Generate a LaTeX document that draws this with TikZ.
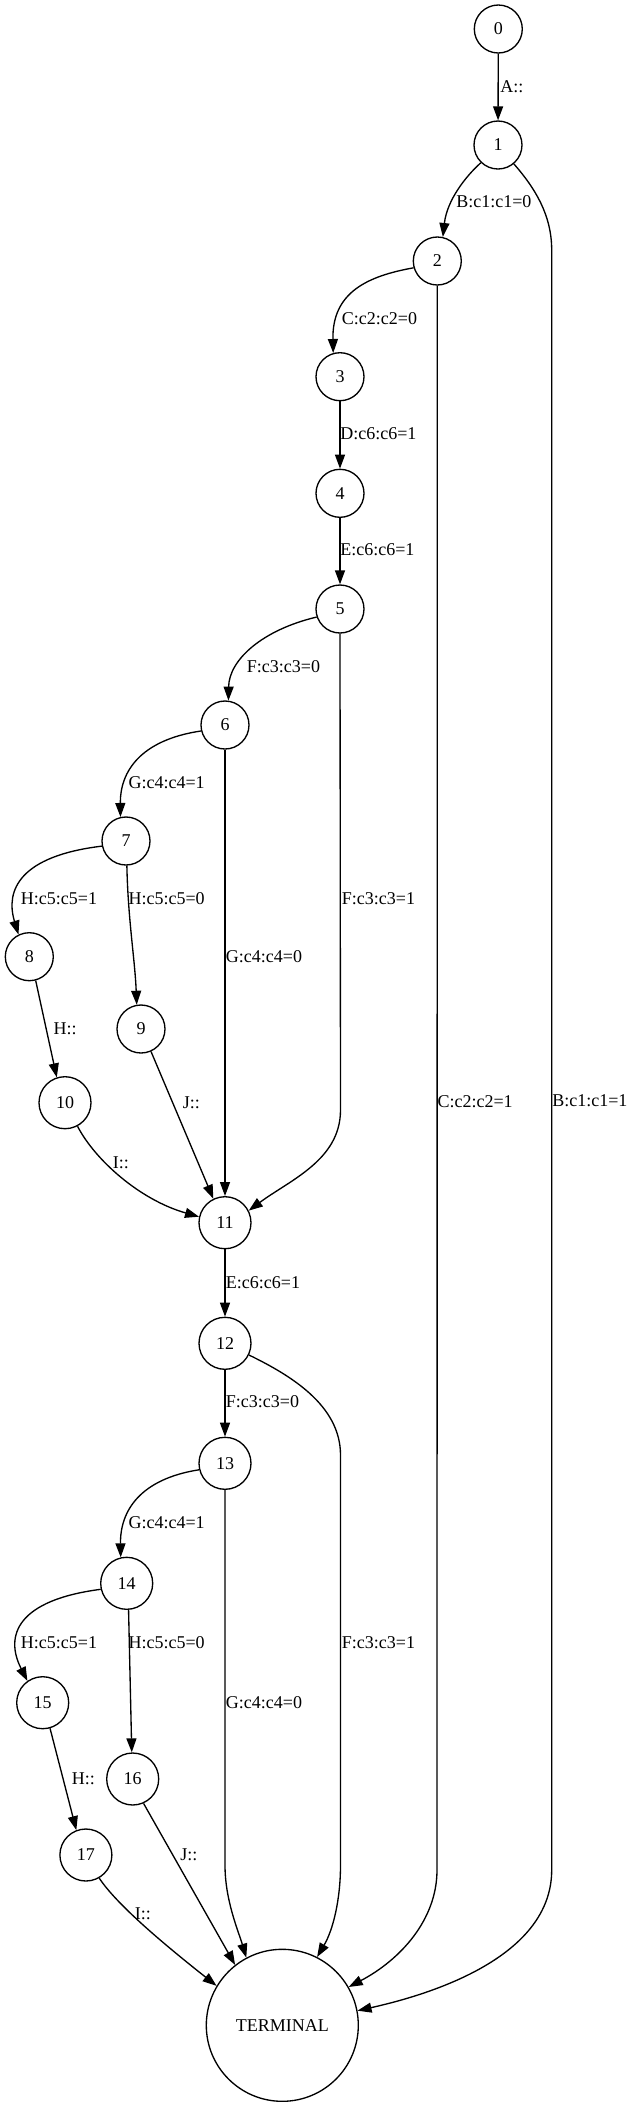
\documentclass[tikz,border=0pt]{standalone}
\usepackage{fontspec}
\setmainfont{Liberation Serif}
\usetikzlibrary{arrows.meta}
\newcommand{\lblfont}{\fontsize{13.5}{16}\selectfont}
\begin{document}
\begin{tikzpicture}[x=0.75pt,y=-0.75pt,
  st/.style={circle,draw,line width=1pt,inner sep=0pt,minimum size=36pt,font=\lblfont},
  stt/.style={st,minimum size=39pt},
  e/.style={draw,line width=1pt,-{Triangle[length=10.5pt,width=7.5pt]}},
  lab/.style={anchor=west,inner sep=0pt,font=\lblfont}]
\useasboundingbox (0,0) rectangle (635,2107);
% nodes
\node[st] (n0) at (498.3,29) {0};
\node[st] (n1) at (498,145) {1};
\node[st] (n2) at (437.3,261) {2};
\node[st] (n3) at (340,376.7) {3};
\node[st] (n4) at (340,493.3) {4};
\node[st] (n5) at (340,609) {5};
\node[st] (n6) at (225,725) {6};
\node[st] (n7) at (126,841) {7};
\node[st] (n8) at (29.3,956.7) {8};
\node[st] (n9) at (141,1029) {9};
\node[stt] (n10) at (65,1102.7) {10};
\node[stt] (n11) at (225,1222.7) {11};
\node[stt] (n12) at (225,1343.3) {12};
\node[stt] (n13) at (225,1463.3) {13};
\node[stt] (n14) at (126.7,1583.3) {14};
\node[stt] (n15) at (42.7,1702.7) {15};
\node[stt] (n16) at (132.7,1779) {16};
\node[stt] (n17) at (85.9,1855) {17};
\node[st,minimum size=114pt] (nT) at (282.3,2025.3) {TERMINAL};
% edges
\draw[e] (n0) -- (n1);
\draw[e] (n1.226) .. controls (466,176) and (447,200) .. (n2.77);
\draw[e] (n1.-50) .. controls (535,188) and (551.7,215) .. (551.7,250) -- (551.7,1870) .. controls (551.7,1950) and (450,1990) .. (nT.11.4);
\draw[e] (n2.196) .. controls (368,276) and (332,292) .. (n3.106);
\draw[e] (n2.south) -- (437,1870) .. controls (437,1920) and (400,1960) .. (nT.30.3);
\draw[e] (n3) -- (n4);
\draw[e] (n4) -- (n5);
\draw[e] (n5.199) .. controls (262,630) and (229,660) .. (n6.82);
\draw[e] (n5.south) -- (340.5,1110) .. controls (340.5,1160) and (290,1180) .. (n11.27);
\draw[e] (n6.194) .. controls (140,740) and (120,772) .. (n7.103);
\draw[e] (n6.south) -- (n11.north);
\draw[e] (n7.192) .. controls (20,856) and (5,890) .. (n8.116);
\draw[e] (n7.272) .. controls (128,920) and (135,960) .. (n9.100);
\draw[e] (n8.-75) -- (n10.108);
\draw[e] (n9.-66) -- (n11.116);
\draw[e] (n10.-62) .. controls (95,1160) and (140,1200) .. (n11.167);
\draw[e] (n11) -- (n12);
\draw[e] (n12) -- (n13);
\draw[e] (n12.-26) .. controls (290,1375) and (340.5,1405) .. (340.5,1455) -- (340.5,1865) .. controls (340.5,1900) and (333,1930) .. (nT.63.4);
\draw[e] (n13.194) .. controls (140,1479) and (120,1511) .. (n14.103);
\draw[e] (n13.south) -- (225,1865) .. controls (225,1900) and (238,1930) .. (nT.118.5);
\draw[e] (n14.193) .. controls (18,1600) and (4,1635) .. (n15.125);
\draw[e] (n14.274) -- (n16.92);
\draw[e] (n15.-74) -- (n17.111);
\draw[e] (n16.-66) -- (nT.128.7);
\draw[e] (n17.-60) .. controls (117,1905) and (165,1945) .. (nT.149.9);
% labels
\node[lab] (l01) at (500,87) {A::};
\node[lab] (l12) at (456,202) {B:c1:c1=0};
\node[lab] (l1T) at (552,1101) {B:c1:c1=1};
\node[lab] (l23) at (341.7,319) {C:c2:c2=0};
\node[lab] (l2T) at (437.3,1101.7) {C:c2:c2=1};
\node[lab] (l34) at (340,434) {D:c6:c6=1};
\node[lab] (l45) at (340,550) {E:c6:c6=1};
\node[lab] (l56) at (246.7,666.7) {F:c3:c3=0};
\node[lab] (l511) at (341.7,898.3) {F:c3:c3=1};
\node[lab] (l67) at (128.3,782.3) {G:c4:c4=1};
\node[lab] (l611) at (225.7,956.7) {G:c4:c4=0};
\node[lab] (l78) at (20.7,898.3) {H:c5:c5=1};
\node[lab] (l79) at (128.3,898.3) {H:c5:c5=0};
\node[lab] (l810) at (53.3,1029) {H::};
\node[lab] (l911) at (182.7,1102.7) {J::};
\node[lab] (l1011) at (112.7,1162.7) {I::};
\node[lab] (l1112) at (225.7,1282.7) {E:c6:c6=1};
\node[lab] (l1213) at (225.7,1402) {F:c3:c3=0};
\node[lab] (l12T) at (341.7,1642.7) {F:c3:c3=1};
\node[lab] (l1314) at (128.3,1522.7) {G:c4:c4=1};
\node[lab] (l13T) at (225.7,1702.7) {G:c4:c4=0};
\node[lab] (l1415) at (20.7,1642.7) {H:c5:c5=1};
\node[lab] (l1416) at (128.3,1642.7) {H:c5:c5=0};
\node[lab] (l1517) at (71.7,1778.3) {H::};
\node[lab] (l16T) at (180,1854.3) {J::};
\node[lab] (l17T) at (134.5,1914) {I::};
\end{tikzpicture}
\end{document}
